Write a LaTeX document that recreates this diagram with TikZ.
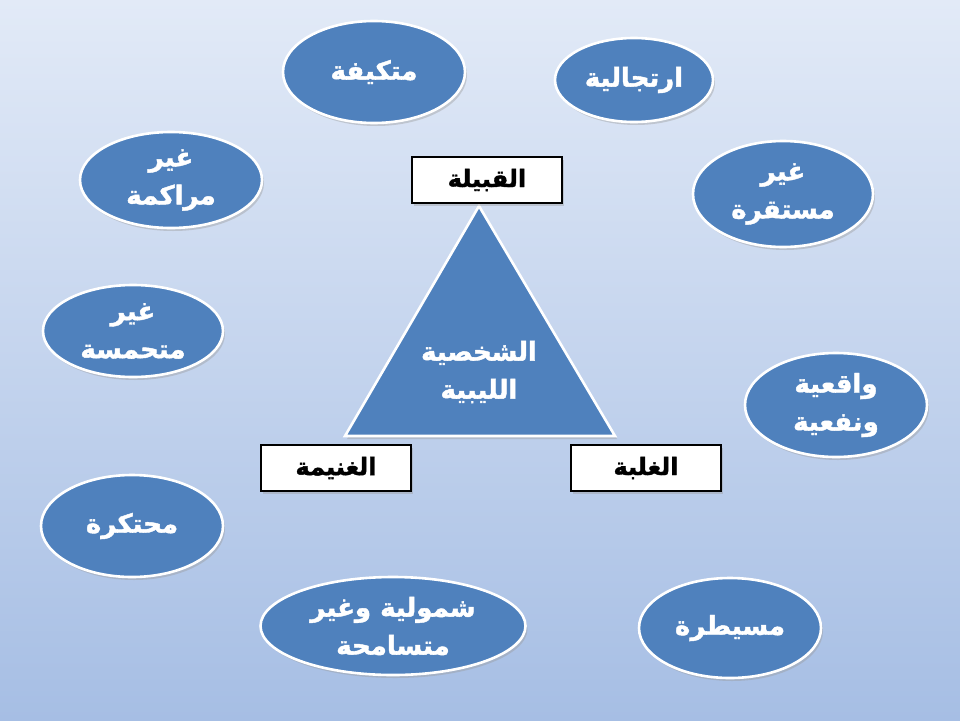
\documentclass[tikz,border=0pt]{standalone}
\usepackage{fontspec}
\usetikzlibrary{shapes.geometric,shadows,calc}
\TeXXeTstate=1
\newfontfamily\arabicfont[Script=Arabic,BoldFeatures={FakeBold=1.6}]{DejaVu Sans}
\definecolor{bgtop}{RGB}{226,234,247}
\definecolor{bgbot}{RGB}{166,190,228}
\definecolor{ovalblue}{RGB}{79,129,189}
\newcommand{\ar}[1]{\beginR #1\endR}
\tikzset{
  oval/.style={ellipse, draw=white, line width=2.6pt, fill=ovalblue, inner sep=0pt,
    text=white, align=center, font=\arabicfont\bfseries\fontsize{26}{38}\selectfont,
    drop shadow={shadow xshift=2pt, shadow yshift=-3pt, fill=black!40, opacity=0.4}},
  lbox/.style={rectangle, draw=black, line width=2.4pt, fill=white, inner sep=0pt,
    minimum width=150pt, minimum height=46pt, text=black,
    font=\arabicfont\bfseries\fontsize{24}{28}\selectfont,
    drop shadow={shadow xshift=2pt, shadow yshift=-3pt, fill=black!40, opacity=0.4}},
  tri/.style={draw=white, line width=2.6pt, fill=ovalblue, line join=miter}
}
\begin{document}
\begin{tikzpicture}[x=1pt,y=-1pt]
\shade[top color=bgtop, bottom color=bgbot] (0,0) rectangle (960,720);
\useasboundingbox (0,0) rectangle (960,720);
% triangle
\coordinate (apex) at (479,206);
\coordinate (bl) at (345,436);
\coordinate (br) at (615,436);
\fill[black!40, opacity=0.4] ($(apex)+(2,3)$) -- ($(bl)+(2,3)$) -- ($(br)+(2,3)$) -- cycle;
\draw[tri] (apex) -- (bl) -- (br) -- cycle;
\node[text=white, align=center, font=\arabicfont\bfseries\fontsize{26}{38}\selectfont] (core) at (479,372) {\ar{الشخصية}\\\ar{الليبية}};
% boxes
\node[lbox] (qabila) at (487,180) {\ar{القبيلة}};
\node[lbox] (ghanima) at (336,468) {\ar{الغنيمة}};
\node[lbox] (ghalaba) at (646,468) {\ar{الغلبة}};
% ovals
\node[oval, minimum width=182pt, minimum height=102pt] (o1) at (374,72) {\ar{متكيفة}};
\node[oval, minimum width=158pt, minimum height=84pt] (o2) at (634,80) {\ar{ارتجالية}};
\node[oval, minimum width=180pt, minimum height=106pt] (o3) at (783,194) {\ar{غير}\\\ar{مستقرة}};
\node[oval, minimum width=182pt, minimum height=96pt] (o4) at (171,180) {\ar{غير}\\\ar{مراكمة}};
\node[oval, minimum width=180pt, minimum height=92pt] (o5) at (133,331) {\ar{غير}\\\ar{متحمسة}};
\node[oval, minimum width=182pt, minimum height=104pt] (o6) at (836,405) {\ar{واقعية}\\\ar{ونفعية}};
\node[oval, minimum width=182pt, minimum height=102pt] (o7) at (132,526) {\ar{محتكرة}};
\node[oval, minimum width=265pt, minimum height=98pt] (o8) at (393,626) {\ar{شمولية وغير}\\\ar{متسامحة}};
\node[oval, minimum width=182pt, minimum height=100pt] (o9) at (730,628) {\ar{مسيطرة}};
\end{tikzpicture}
\end{document}
